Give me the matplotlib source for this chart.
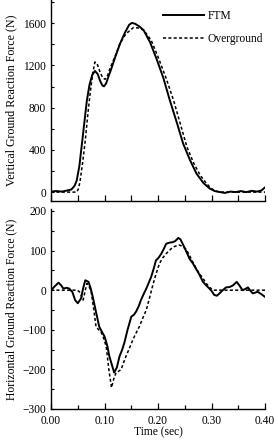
import matplotlib
matplotlib.use("Agg")
import matplotlib.pyplot as plt
from matplotlib.ticker import MultipleLocator

plt.rcParams['font.family'] = ['Liberation Serif', 'DejaVu Serif']

# Vertical GRF
v_ftm_t = [0.000, 0.010, 0.020, 0.030, 0.038, 0.044, 0.048, 0.053, 0.057, 0.062, 0.067, 0.072, 0.077, 0.082,
           0.087, 0.092, 0.096, 0.099, 0.103, 0.107, 0.112, 0.120, 0.129, 0.138, 0.146, 0.151, 0.157, 0.165,
           0.173, 0.185, 0.197, 0.210, 0.222, 0.235, 0.247, 0.260, 0.272, 0.285, 0.297, 0.306, 0.316, 0.325,
           0.335, 0.345, 0.355, 0.365, 0.375, 0.385, 0.393, 0.400]
v_ftm = [5, 10, 5, 15, 25, 60, 110, 250, 427, 650, 870, 1020, 1110, 1148,
         1120, 1050, 1010, 1002, 1030, 1090, 1160, 1280, 1407, 1510, 1585, 1603, 1595, 1570,
         1534, 1420, 1265, 1080, 870, 660, 458, 300, 174, 85, 32, 10, 0, -8,
         5, 0, 10, 0, 12, 5, 15, 45]
v_og_t = [0.000, 0.020, 0.040, 0.048, 0.051, 0.054, 0.059, 0.064, 0.069, 0.073, 0.078, 0.082, 0.087,
          0.092, 0.097, 0.101, 0.106, 0.110, 0.120, 0.129, 0.140, 0.154, 0.163, 0.173, 0.187, 0.200,
          0.215, 0.229, 0.242, 0.254, 0.267, 0.279, 0.290, 0.297, 0.305, 0.315, 0.330, 0.360, 0.400]
v_og = [0, 0, 0, 0, 30, 95, 280, 490, 750, 933, 1130, 1233, 1205,
        1130, 1080, 1069, 1110, 1170, 1290, 1410, 1500, 1559, 1555, 1535, 1440, 1280,
        1080, 870, 640, 427, 270, 158, 85, 47, 15, 0, 0, 0, 0]

# Horizontal GRF
h_ftm_t = [0.000, 0.007, 0.014, 0.019, 0.023, 0.029, 0.034, 0.040, 0.045, 0.050, 0.056, 0.060, 0.064,
           0.070, 0.074, 0.078, 0.084, 0.090, 0.095, 0.100, 0.105, 0.109, 0.114, 0.118, 0.123, 0.128,
           0.133, 0.137, 0.143, 0.150, 0.155, 0.159, 0.164, 0.168, 0.173, 0.178, 0.183, 0.187, 0.192,
           0.196, 0.201, 0.206, 0.211, 0.215, 0.221, 0.227, 0.232, 0.238, 0.242, 0.246, 0.252, 0.259,
           0.265, 0.271, 0.277, 0.284, 0.290, 0.296, 0.300, 0.305, 0.310, 0.315, 0.321, 0.327, 0.334,
           0.340, 0.347, 0.352, 0.358, 0.363, 0.368, 0.373, 0.377, 0.382, 0.386, 0.393, 0.400]
h_ftm = [0, 10, 19, 12, 4, 6, 4, -5, -25, -33, -21, 5, 25,
         21, 5, -17, -55, -92, -105, -117, -140, -167, -190, -208, -195, -167,
         -150, -133, -100, -67, -62, -54, -40, -25, -10, 4, 20, 33, 55,
         75, 82, 92, 105, 117, 120, 121, 124, 132, 128, 117, 100, 79,
         68, 54, 40, 21, 12, 4, -2, -12, -14, -8, 0, 7, 8,
         12, 21, 12, 0, 3, 7, -2, -8, -6, -4, -10, -17]
h_og_t = [0.000, 0.020, 0.044, 0.049, 0.053, 0.057, 0.060, 0.064, 0.067, 0.071, 0.075, 0.080, 0.084,
          0.089, 0.093, 0.098, 0.103, 0.108, 0.113, 0.117, 0.1215, 0.126, 0.131, 0.135, 0.140, 0.147,
          0.153, 0.159, 0.165, 0.171, 0.178, 0.184, 0.190, 0.196, 0.2025, 0.209, 0.215, 0.221, 0.227,
          0.234, 0.240, 0.246, 0.252, 0.258, 0.265, 0.271, 0.277, 0.284, 0.290, 0.296, 0.302, 0.310,
          0.350, 0.400]
h_og = [0, 0, 0, 0, -4, -15, -25, 0, 17, 10, -4, -50, -92,
        -100, -104, -120, -142, -200, -246, -225, -208, -205, -200, -185, -167, -145,
        -125, -108, -92, -72, -50, -20, 12, 40, 67, 82, 92, 100, 108,
        112, 114, 110, 104, 90, 71, 56, 42, 30, 17, 8, 0, 0,
        0, 0]

x_ticks = [0.00, 0.10, 0.20, 0.30, 0.40]
x_labels = ['0.00', '0.10', '0.20', '0.30', '0.40']

fig = plt.figure(figsize=(2.79, 4.40), dpi=100)
ax1 = fig.add_axes([0.183, 0.543, 0.767, 0.457])
ax2 = fig.add_axes([0.183, 0.0705, 0.767, 0.4545])

fs = 8.3
for ax in (ax1, ax2):
    ax.spines['top'].set_visible(False)
    ax.spines['right'].set_visible(False)
    ax.set_xlim(0, 0.40)
    ax.tick_params(labelsize=fs)
    ax.tick_params(axis='x', which='both', direction='in', width=0.9, pad=4)
    ax.tick_params(axis='y', which='both', direction='in', length=2.3, width=0.8, pad=3.5)
    for s in ax.spines.values():
        s.set_linewidth(1.0)

ax1.plot(v_ftm_t, v_ftm, color='black', lw=1.4, label='FTM')
ax1.plot(v_og_t, v_og, color='black', lw=1.1, ls=(0, (2.0, 1.5)), label='Overground')
ax1.set_ylim(-85, 1820)
ax1.set_yticks([0, 400, 800, 1200, 1600])
ax1.yaxis.set_minor_locator(MultipleLocator(200))
ax1.xaxis.set_major_locator(MultipleLocator(0.05))
ax1.tick_params(axis='x', length=4.3)
ax1.set_xticklabels([])
ax1.set_ylabel('Vertical Ground Reaction Force (N)', fontsize=8.6, labelpad=4)
ax1.legend(loc='upper left', bbox_to_anchor=(0.50, 0.975), frameon=False, fontsize=fs,
           handlelength=3.6, handletextpad=0.3, labelspacing=0.95, borderaxespad=0)

ax2.plot(h_ftm_t, h_ftm, color='black', lw=1.4)
ax2.plot(h_og_t, h_og, color='black', lw=1.1, ls=(0, (2.0, 1.5)))
ax2.set_ylim(-300, 205)
ax2.set_yticks([-300, -200, -100, 0, 100, 200])
ax2.yaxis.set_minor_locator(MultipleLocator(50))
ax2.set_xticks(x_ticks)
ax2.set_xticklabels(x_labels)
ax2.xaxis.set_minor_locator(MultipleLocator(0.05))
ax2.tick_params(axis='x', which='major', length=4.3)
ax2.tick_params(axis='x', which='minor', length=2.8)
ax2.set_ylabel('Horizontal Ground Reaction Force (N)', fontsize=8.4, labelpad=4)
ax2.set_xlabel('Time (sec)', fontsize=fs, labelpad=0)

fig.savefig('out.png', dpi=100)
